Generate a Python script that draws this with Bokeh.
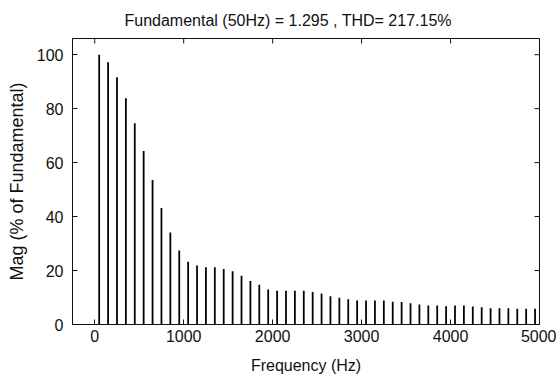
import math

from bokeh.plotting import figure
from bokeh.models import Range1d, FixedTicker, ColumnDataSource, Title
from bokeh.embed import file_html
from bokeh.resources import INLINE

# Harmonic spectrum (odd harmonics of 50 Hz), magnitude in % of fundamental
freq_hz = [50, 150, 250, 350, 450, 550, 650, 750, 850, 950,
           1050, 1150, 1250, 1350, 1450, 1550, 1650, 1750, 1850, 1950,
           2050, 2150, 2250, 2350, 2450, 2550, 2650, 2750, 2850, 2950,
           3050, 3150, 3250, 3350, 3450, 3550, 3650, 3750, 3850, 3950,
           4050, 4150, 4250, 4350, 4450, 4550, 4650, 4750, 4850, 4950]
mag_pct = [100.0, 97.2, 91.6, 83.9, 74.6, 64.3, 53.6, 43.2, 34.1, 27.4,
           23.3, 21.9, 21.2, 21.2, 20.6, 19.7, 18.1, 16.1, 14.7, 13.0,
           12.5, 12.5, 12.5, 12.5, 12.0, 11.5, 10.5, 9.9, 9.4, 8.9,
           8.9, 8.9, 8.9, 8.4, 8.3, 7.9, 7.4, 7.0, 7.0, 6.8,
           7.0, 7.0, 6.7, 6.4, 6.0, 6.0, 6.0, 5.8, 5.8, 5.8]
x_ticks = [0, 1000, 2000, 3000, 4000, 5000]
y_ticks = [0, 20, 40, 60, 80, 100]
x_lim = (-250, 5000)
y_lim = (0, 106)

title_text = "Fundamental (50Hz) = 1.295 , THD= 217.15%"
FONT = "Liberation Sans"
INK = "#111111"
TICK_LEN = 5

p = figure(width=556, height=378, output_backend="svg", toolbar_location=None,
           x_range=Range1d(*x_lim), y_range=Range1d(*y_lim),
           min_border_left=72, min_border_right=17,
           min_border_top=38, min_border_bottom=54)
p.title = Title(text=title_text, align="left", offset=52, standoff=16,
                vertical_align="top",
                text_font=FONT, text_font_size="16px",
                text_font_style="normal", text_color=INK)

p.background_fill_color = "white"
p.border_fill_color = "white"
p.outline_line_color = INK
p.xgrid.visible = False
p.ygrid.visible = False

src = ColumnDataSource(data=dict(f=freq_hz, m=mag_pct))
p.vbar(x="f", top="m", width=20, bottom=0, source=src,
       fill_color="black", line_color=None)

# Box-style axes: ticks pointing into the plot on every side
for ax in (p.xaxis[0], p.yaxis[0]):
    ax.major_tick_in = TICK_LEN
    ax.major_tick_out = 0
    ax.minor_tick_in = 0
    ax.minor_tick_out = 0
    ax.axis_line_color = INK
    ax.major_tick_line_color = INK
    ax.major_label_text_font = FONT
    ax.major_label_text_font_size = "16px"
    ax.major_label_text_color = INK
    ax.axis_label_text_font = FONT
    ax.axis_label_text_font_size = "16px"
    ax.axis_label_text_font_style = "normal"
    ax.axis_label_text_color = INK

p.xaxis.ticker = FixedTicker(ticks=x_ticks)
p.yaxis.ticker = FixedTicker(ticks=y_ticks)
p.xaxis.axis_label = "Frequency (Hz)"
p.yaxis.axis_label = "Mag (% of Fundamental)"
p.yaxis.axis_label_text_font_size = "18px"
p.xaxis.major_label_standoff = 5
p.xaxis.axis_label_standoff = 12
p.yaxis.major_label_standoff = 9
p.yaxis.axis_label_standoff = 7

# Inward ticks on the top and right edges of the box
p.ray(x=x_ticks, y=[y_lim[1]] * len(x_ticks), length=TICK_LEN,
      length_units="screen", angle=-math.pi / 2, line_color=INK, line_width=1)
p.ray(x=[x_lim[1]] * len(y_ticks), y=y_ticks, length=TICK_LEN,
      length_units="screen", angle=math.pi, line_color=INK, line_width=1)

open("out.html", "w").write(file_html(p, INLINE))
